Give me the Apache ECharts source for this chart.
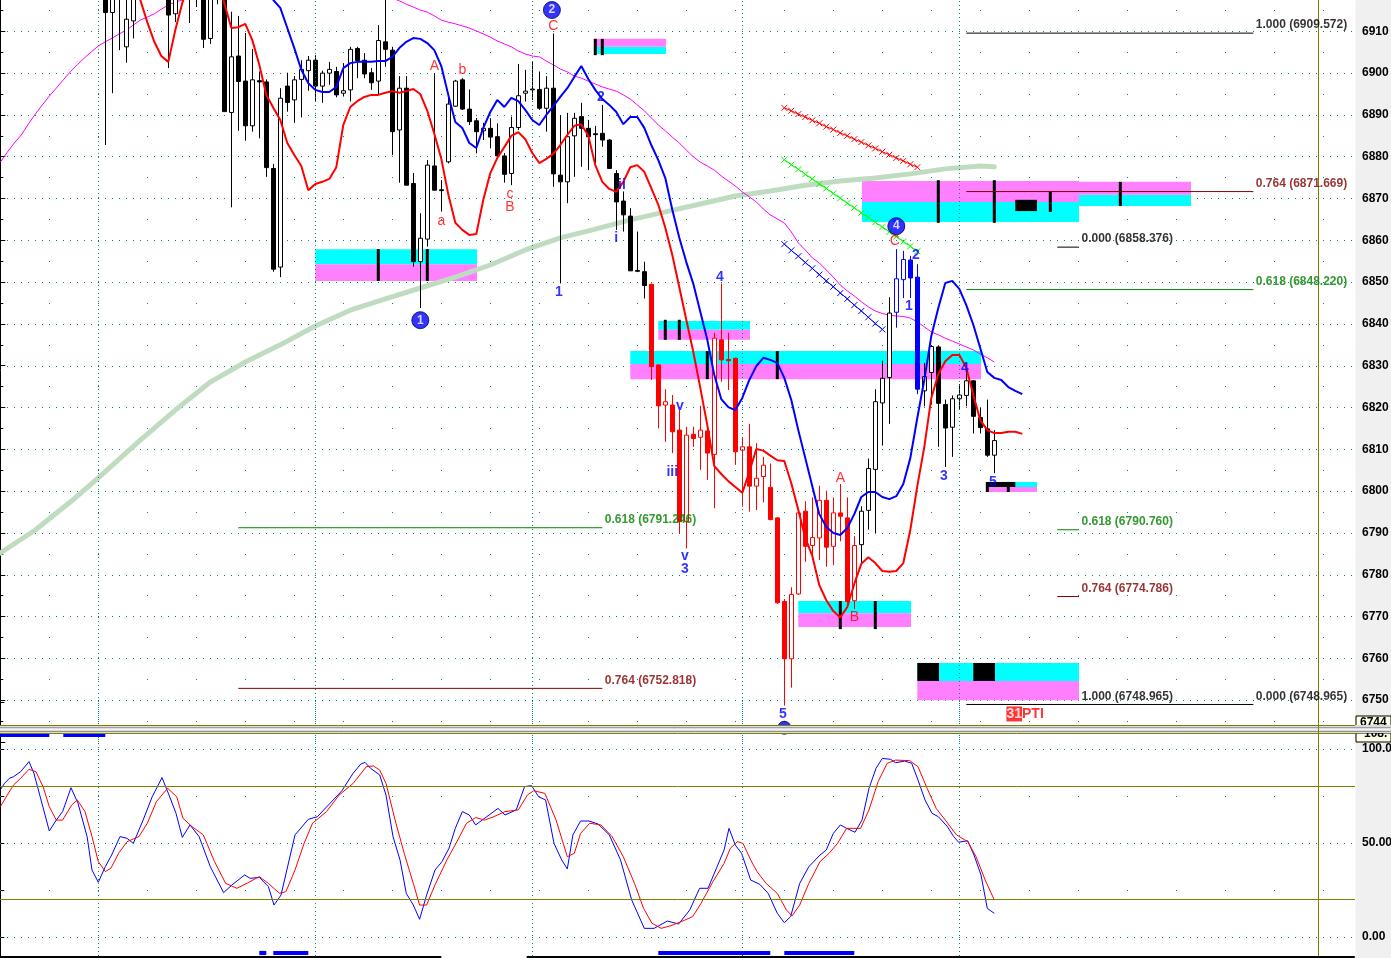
<!DOCTYPE html>
<html>
<head>
<meta charset="utf-8">
<title>Chart</title>
<script src="https://cdn.jsdelivr.net/npm/echarts@6.0.0/dist/echarts.min.js"></script>
<style>
html,body{margin:0;padding:0;background:#ffffff;overflow:hidden;}
#chart{width:1391px;height:958px;}
</style>
</head>
<body>
<div id="chart"></div>
<script>
// ================= DATA (bar index = position on the time axis) =================
const FIRST_CANDLE_BAR = 15;
const candleOpen = [
6925,6914.5,6925,6906.3,6912.5,6921,6926,6930,6927,6922,
6914.2,6921,6925,6920,6922,6908.3,6921,6920,6890.6,6904.1,
6898.1,6887.4,6898.2,6897.9,6877.2,6853.6,6896.9,6893.6,6898.5,6900.6,
6903.1,6896.9,6900.0,6900.4,6895.2,6896.0,6905.9,6903.1,6900.1,6898.1,
6907.5,6905.5,6886.4,6896.4,6873.6,6854.9,6860.3,6877.8,6872.1,6878.8,
6892.1,6898.4,6891.4,6888.6,6886.2,6886.8,6884.8,6880.2,6876.0,6887.0,
6895.2,6896.2,6896.1,6891.6,6896.4,6875.6,6874.0,6885.0,6889.6,6886.8,
6885.5,6885.6,6884.0,6876.0,6869.4,6865.8,6852.8,6852.5,6849.5,6830.2,
6820.6,6820.6,6814.6,6792.7,6813.6,6812.9,6814.4,6808.8,6836.2,6831.5,
6831.8,6809.8,6810.6,6801.2,6803.5,6800.9,6793.6,6773.6,6759.9,6775.4,
6795.2,6787.0,6788.8,6797.8,6786.8,6794.8,6793.6,6773.8,6787.2,6795.4,
6805.2,6821.1,6827.2,6842.8,6850.6,6855.3,6851.2,6824.0,6828.4,6834.5,
6820.7,6815.3,6822.1,6822.9,6826.4,6817.6,6814.9,6808.6];
const candleClose = [
6914.5,6922,6920,6912.9,6919,6926,6930,6927,6923,6913.9,
6921,6924,6921,6924,6908.1,6921,6924,6890.8,6903.9,6898.0,
6887.4,6898.4,6897.9,6877.4,6853.1,6894.0,6893.0,6898.4,6900.9,6903.1,
6896.9,6900.0,6900.9,6894.8,6895.8,6905.7,6903.0,6899.8,6897.7,6907.8,
6905.7,6886.0,6896.4,6873.2,6854.9,6860.5,6878.0,6872.0,6871.9,6892.6,
6898.1,6891.4,6888.4,6886.0,6886.8,6884.7,6880.2,6875.8,6887.0,6894.6,
6895.7,6896.0,6891.6,6896.4,6875.9,6874.0,6884.8,6889.2,6886.8,6884.8,
6885.3,6884.0,6877.2,6869.2,6866.1,6852.7,6852.6,6849.2,6829.8,6820.4,
6821.4,6814.2,6792.7,6813.4,6812.6,6814.6,6809.1,6836.6,6831.4,6831.2,
6809.4,6810.6,6801.2,6803.1,6806.2,6793.2,6773.3,6759.9,6775.3,6794.8,
6786.8,6788.9,6797.8,6786.6,6794.8,6794.0,6773.6,6787.0,6795.2,6805.4,
6821.4,6827.0,6842.6,6850.8,6855.4,6851.0,6824.4,6827.4,6834.6,6821.0,
6815.1,6822.1,6823.0,6826.4,6817.9,6815.2,6808.6,6812.1];
const candleLow = [
6882.8,6895.2,6905.5,6902.5,6908.3,6919,6923,6924,6919,6901.2,
6912.2,6919,6912.0,6915.8,6906.0,6907.0,6916.5,6890.7,6867.9,6886.2,
6883.8,6886.0,6884.4,6875.2,6852.5,6851.2,6890.8,6888.1,6889.4,6895.8,
6893.3,6892.9,6897.2,6894.2,6894.4,6893.2,6898.8,6898.8,6896.0,6894.8,
6901.5,6880.4,6873.8,6873.2,6853.7,6843.8,6858.5,6871.9,6866.9,6878.4,
6891.9,6891.2,6887.6,6880.8,6884.0,6882.0,6880.0,6873.8,6873.2,6886.4,
6893.2,6893.6,6891.2,6886.0,6872.8,6849.7,6868.9,6875.2,6877.6,6876.8,
6878.4,6882.4,6877.2,6862.5,6862.1,6852.7,6852.4,6846.1,6826.6,6815.0,
6811.8,6809.1,6789.9,6786.3,6810.6,6805.1,6802.7,6795.9,6826.2,6824.2,
6806.3,6796.3,6795.1,6795.5,6797.3,6793.0,6773.0,6748.7,6753.0,6775.2,
6783.1,6783.5,6783.5,6781.9,6782.3,6788.0,6772.6,6771.8,6782.3,6790.8,
6790.0,6810.9,6816.1,6839.1,6846.2,6846.2,6823.2,6820.3,6820.7,6810.6,
6805.8,6808.2,6819.5,6820.3,6813.8,6813.8,6808.2,6804.3];
const candleHigh = [
6930,6926,6928,6920,6922,6930,6934,6933,6930,6926,
6924,6927,6928,6927,6925,6924,6928,6924,6914.7,6913.7,
6909.6,6905.8,6900.4,6898.5,6878.3,6896.4,6900.1,6899.3,6903.1,6904.1,
6904.3,6900.6,6902.7,6901.5,6902.4,6906.3,6906.3,6904.8,6901.2,6911.5,
6918.5,6906.3,6899.3,6899.3,6876.1,6866.5,6879.2,6900.0,6874.4,6895.2,
6898.4,6898.8,6896.1,6889.3,6888.1,6889.2,6888.0,6880.9,6889.6,6902.2,
6900.8,6902.7,6900.4,6899.3,6909.5,6890.0,6890.5,6890.5,6892.9,6888.8,
6887.4,6892.4,6884.2,6876.8,6871.7,6867.7,6862.1,6854.9,6849.6,6830.3,
6824.4,6823.0,6819.4,6815.4,6815.4,6820.4,6815.8,6837.9,6849.7,6837.9,
6831.9,6813.0,6816.1,6811.5,6808.2,6806.6,6793.8,6774.2,6777.0,6795.0,
6797.6,6798.5,6801.3,6800.1,6798.5,6801.7,6798.5,6789.2,6796.4,6807.8,
6824.4,6831.2,6846.4,6857.9,6857.5,6856.3,6854.3,6830.7,6834.9,6834.9,
6821.9,6822.9,6825.6,6829.2,6826.5,6819.9,6821.9,6814.6];
const RED_CANDLES = [78, 107];   // candle numbers drawn in red
const BLUE_CANDLES = [113, 116]; // candle numbers drawn in blue

// red average (starts at bar 19)
const RED_LINE_START = 19;
const redLine = [
6922,6917.5,6912.2,6907.5,6904.1,6902.7,6910.3,6916.8,6922,6926,
6927,6926,6922,6916.8,6910.8,6911.0,6911.8,6907.9,6902.0,6894.8,
6891.7,6888.8,6883.3,6880.4,6877.8,6872.0,6873.5,6874.0,6874.7,6877.5,
6887.6,6891.9,6893.3,6894.3,6894.8,6894.8,6895.3,6895.7,6895.3,6895.7,
6896.2,6895.0,6891.0,6885.5,6879.5,6871.0,6864.2,6862.5,6861.3,6861.5,
6869.7,6876.1,6879.7,6882.3,6885.0,6885.9,6884.2,6880.9,6878.5,6879.5,
6880.7,6882.8,6885.2,6887.4,6887.8,6885.0,6878.0,6874.0,6872.3,6871.6,
6874.0,6877.5,6878.0,6876.4,6872.5,6868.5,6863.0,6856.5,6848.8,6841.0,
6833.3,6824.7,6815.8,6806.0,6804.1,6802.4,6801.0,6799.6,6804.6,6810.1,
6809.7,6808.5,6807.4,6807.2,6801.9,6795.5,6788.8,6784.5,6777.5,6773.9,
6771.3,6769.8,6772.3,6777.8,6782.6,6784.2,6782.8,6780.9,6780.7,6780.9,
6782.8,6790.7,6801.2,6810.6,6822.3,6828.0,6831.1,6832.6,6832.6,6829.5,
6823.0,6817.0,6814.6,6813.9,6813.9,6814.2,6814.2,6813.7];
// blue average (starts at bar 38)
const BLUE_LINE_START = 38;
const blueLine = [
6922,6917.5,6915.6,6910.8,6906.0,6900.8,6897.6,6896.0,6895.5,6895.5,
6896.7,6901.2,6902.4,6902.7,6902.7,6902.7,6902.9,6902.9,6903.9,6906.0,
6907.5,6908.4,6908.2,6907.2,6905.5,6901.7,6894.8,6888.3,6886.9,6883.3,
6882.1,6886.9,6890.7,6893.6,6891.9,6894.1,6893.3,6891.2,6888.8,6887.6,
6890.0,6892.1,6894.3,6896.4,6899.1,6901.7,6898.6,6896.0,6893.8,6892.4,
6890.7,6887.8,6889.5,6889.5,6886.9,6882.8,6879.2,6874.9,6867.3,6860.6,
6854.8,6849.6,6842.9,6836.2,6827.8,6822.0,6820.1,6819.4,6822.3,6826.6,
6829.9,6831.9,6831.4,6830.7,6827.1,6821.8,6814.6,6807.9,6801.2,6794.5,
6791.4,6790.0,6789.5,6791.2,6794.5,6798.6,6799.8,6799.8,6798.6,6798.1,
6798.8,6801.7,6807.9,6817.5,6826.6,6837.1,6843.8,6849.8,6850.3,6848.4,
6844.5,6839.8,6834.2,6828.5,6827.1,6826.6,6824.9,6824.0,6823.2];
// thin magenta average (starts at bar 0)
const pinkLine = [
6878.7,6881.1,6883.3,6885.2,6887.8,6890.2,6892.4,6894.5,6896.4,6898.4,
6900.3,6902.0,6903.6,6905.1,6906.5,6907.5,6908.4,6909.4,6910.3,6911.5,
6912.7,6913.4,6914.2,6915.3,6916.3,6917.0,6917.5,
6919,6920.5,6922,6923.5,6925,6926,6927,6927.5,6928,6928,
6928,6927.5,6927,6926.5,6926,6925.5,6925,6924.5,6924,6923.5,
6923,6922.5,6922,6921.5,6921,6920.5,6920,6919.5,6919,
6918.0,6917.3,6916.5,6915.8,6915.1,6914.6,6913.7,6912.7,6912.2,6911.8,
6911.3,6910.8,6910.1,6909.4,6908.6,6907.7,6907.0,6906.3,6905.3,6904.6,
6904.1,6903.9,6902.9,6902.0,6901.0,6900.3,6899.3,6898.8,6898.1,6897.4,
6896.7,6896.2,6895.7,6894.8,6893.8,6892.4,6891.0,6889.3,6887.6,6886.2,
6884.7,6883.3,6881.6,6880.0,6878.7,6877.8,6876.8,6875.4,6874.2,6873.0,
6871.6,6870.4,6869.2,6867.5,6866.1,6865.1,6864.2,6862.0,6859.4,6857.7,
6855.8,6854.6,6852.9,6851.2,6849.3,6847.9,6846.7,6845.3,6844.1,
6843.1,6842.5,6842.1,6841.9,6841.8,6841.4,6840.5,6839.3,6838.1,6837.4,
6836.6,6835.9,6835.2,6834.5,6833.8,6832.8,6831.9,6830.9];
// thick light-green long average: [bar, value]
const greenLine = [[0,6785.2],[5,6790.7],[10,6797.4],[14,6803.2],[20,6812.2],[25,6819.4],[30,6826.1],[35,6830.9],[40,6835.0],[45,6839.5],[50,6843.3],[55,6846.0],[60,6848.6],[65,6851.2],[70,6854.1],[75,6857.7],[80,6860.6],[85,6862.7],[90,6864.9],[95,6866.8],[100,6868.7],[105,6870.6],[110,6871.8],[115,6873.2],[120,6874.2],[125,6874.9],[130,6875.9],[135,6877.1],[140,6877.8],[142,6877.6]];

// x-marked trend lines (start at bar 112)
const XLINE_START = 112;
const redXLine = [6891.7,6891.0,6890.2,6889.5,6888.7,6888.0,6887.2,6886.5,6885.7,6885.0,6884.2,6883.5,6882.7,6882.0,6881.2,6880.5,6879.7,6879.0,6878.2,6877.5];
const greenXLine = [6879.3,6878.1,6877.0,6875.8,6874.7,6873.5,6872.4,6871.2,6870.1,6868.9,6867.8,6866.6,6865.5,6864.3,6863.2,6862.0,6860.9,6859.7,6858.6,6857.4];
const blueXLine = [6859.1,6857.6,6856.2,6854.7,6853.3,6851.8,6850.3,6848.9,6847.4,6846.0,6844.5,6843.1,6841.6,6840.1,6838.7];

// zones: [fromBar, toBar, highPrice, lowPrice]
const cyanZones = [[45.0,68.1,6857.9,6854.3],[84.8,95.1,6906.3,6904.6],[94.0,107.1,6840.7,6838.6],[90.0,140.1,6833.5,6830.4],[114.0,130.1,6773.7,6770.8],[123.1,154.1,6869.2,6864.4],[154.1,170.1,6870.9,6868.2],[131.0,154.1,6758.9,6754.6],[141.0,148.1,6802.2,6801.0]];
const pinkZones = [[45.0,68.1,6854.3,6850.3],[84.8,95.1,6908.2,6906.3],[94.0,107.1,6838.6,6836.2],[90.0,140.1,6830.4,6826.8],[114.0,130.1,6770.8,6767.5],[123.1,154.1,6874.2,6869.2],[154.1,170.1,6874.0,6870.9],[131.0,154.1,6754.6,6750.0],[141.0,148.1,6801.0,6799.8]];
const blackBlocks = [[131.0,134.1,6758.9,6754.6],[139.0,142.1,6758.9,6754.6],[141.0,145.0,6802.2,6801.0],[145.0,148.1,6869.7,6867.0]];
// zone ticks: [bar, highPrice, lowPrice]
const zoneTicks = [[54,6857.9,6850.3],[61,6857.9,6850.3],[85,6908.2,6904.3],[86,6908.2,6904.3],[95,6841.0,6836.2],[97,6841.0,6836.2],[101,6833.5,6826.8],[111,6833.5,6826.8],[120,6773.7,6767.0],[125,6773.7,6767.0],[134,6874.4,6864.2],[142,6874.4,6864.2],[150,6871.8,6866.8],[160,6874.0,6868.2],[141,6802.2,6799.8],[144,6802.2,6799.8]];

// fibonacci levels: [fromBar, toBar, price, text]
const fibBlack = [[138,179,6909.572,'1.000 (6909.572)'],[151,154.1,6858.376,'0.000 (6858.376)'],[138,179,6748.965,'0.000 (6748.965)']];
const fibDarkRed = [[138,179,6871.669,'0.764 (6871.669)'],[151,154.1,6774.786,'0.764 (6774.786)'],[34,86,6752.818,'0.764 (6752.818)']];
const fibGreen = [[138,179,6848.220,'0.618 (6848.220)'],[151,154.1,6790.760,'0.618 (6790.760)'],[34,86,6791.246,'0.618 (6791.246)']];
const fibExtraBlack = [[154.1,6748.965,'1.000 (6748.965)']];

// wave labels: [bar, price, text]
const circleLabels = [[60,6840.9,'1'],[78.8,6915.1,'2'],[128,6863.4,'4']];
const redLabels = [[79,6911.3,'C'],[62,6901.7,'A'],[66,6900.8,'b'],[63,6864.6,'a'],[72.8,6871.1,'c'],[72.8,6868.0,'B'],[120,6803.1,'A'],[122,6769.9,'B'],[127.8,6859.8,'C']];
const blueLabels = [[79.8,6847.6,'1'],[85.8,6894.3,'2'],[88.8,6873.2,'ii'],[88,6860.6,'i'],[102.8,6851.2,'4'],[97.1,6820.4,'v'],[96,6804.6,'iii'],[97.8,6784.5,'v'],[97.8,6781.4,'3'],[111.8,6746.7,'5'],[130.8,6856.5,'2'],[129.8,6844.3,'1'],[134.8,6803.6,'3'],[137.8,6829.5,'4'],[141.8,6802.2,'5']];
const halfCircle = [[112,6743.4]];
const ptiLabel = [[146.4,6746.7,'31PTI']];

// vertical separators (session breaks) and the olive cursor line
const sessionBreaks = [14,45,76,106,137];
const cursorBar = 188.25;

// stochastic: [bar, value]
const stochK = [[0,78.2],[0.6,81.7],[1.3,84.4],[1.9,85.3],[2.9,87.9],[4.1,93.3],[4.8,87.1],[5.7,74.6],[7.0,56.4],[8.0,62.2],[8.9,66.7],[10.1,79.4],[11.1,71.1],[12.4,53.4],[13.1,35.6],[14.0,29.1],[15.0,37.4],[15.9,43.6],[17.1,53.4],[18.1,52.5],[19.0,49.8],[20.4,62.2],[21.7,74.6],[23.1,84.8],[24.1,75.5],[25.1,65.8],[26.0,53.0],[27.1,59.6],[28.4,53.4],[30.0,37.4],[31.9,23.6],[33.1,27.7],[34.9,33.0],[35.7,31.2],[37.0,31.7],[38.3,26.8],[39.1,17.0],[40.1,22.3],[42.1,54.3],[44.0,62.6],[45.3,64.0],[47.1,71.1],[48.8,77.8],[50.4,87.1],[51.5,92.0],[52.1,92.9],[52.9,89.7],[54.2,86.2],[55.1,75.5],[56.1,53.4],[57.1,41.0],[58.0,23.2],[59.0,17.0],[59.9,9.4],[60.9,22.3],[62.1,35.6],[63.1,40.1],[64.1,47.2],[65.0,57.8],[66.0,66.7],[67.0,64.9],[67.9,59.6],[69.5,64.0],[71.1,68.4],[72.1,64.9],[73.7,67.6],[74.9,80.0],[75.9,80.5],[76.9,74.6],[77.9,72.9],[79.1,49.8],[80.2,41.0],[81.0,36.2],[81.8,54.3],[82.9,61.7],[84.1,61.7],[85.4,60.1],[87.0,54.3],[88.6,41.0],[90.2,19.7],[92.0,4.6],[93.4,4.6],[95.3,8.5],[96.9,6.9],[98.5,14.4],[99.9,25.9],[101.1,25.9],[102.4,37.4],[103.4,46.3],[104.1,57.8],[105.0,48.9],[105.9,44.5],[107.2,30.3],[108.5,28.0],[109.7,23.2],[111.0,12.6],[112.0,7.6],[112.9,10.8],[114.2,28.5],[115.5,37.4],[117.1,43.6],[118.0,46.3],[119.0,55.1],[120.0,59.6],[120.9,57.8],[122.1,55.7],[123.1,62.2],[124.1,79.1],[125.1,89.7],[126.0,95.0],[127.2,94.5],[127.9,92.7],[129.2,93.6],[130.2,92.4],[131.1,83.5],[132.1,72.9],[133.1,65.8],[134.0,64.0],[135.3,58.7],[136.2,53.4],[136.9,50.4],[138.2,51.2],[139.1,43.6],[140.1,33.0],[141.0,15.2],[142.0,12.6]];
const stochD = [[0,69.3],[1.0,75.5],[1.9,80.9],[2.9,84.4],[4.1,89.2],[5.1,87.9],[6.1,80.0],[7.0,69.3],[8.0,62.2],[8.9,62.2],[10.2,70.2],[11.0,72.9],[12.1,66.7],[13.1,53.4],[14.0,40.1],[15.0,34.8],[15.8,36.6],[16.9,44.5],[18.1,50.7],[19.8,53.4],[21.0,60.5],[22.3,72.0],[23.9,79.1],[25.2,74.6],[26.1,63.1],[27.4,58.7],[29.0,54.3],[30.6,40.1],[32.2,28.5],[33.8,25.9],[35.4,28.9],[37.0,32.1],[38.3,28.5],[39.9,23.2],[40.8,24.1],[42.1,35.6],[43.4,49.8],[44.6,60.5],[46.6,66.7],[48.4,75.5],[50.4,81.7],[52.3,90.6],[53.3,91.0],[54.2,88.8],[55.1,81.7],[56.4,62.2],[57.7,44.5],[59.0,28.5],[59.9,17.0],[60.9,17.0],[62.1,27.7],[63.8,41.0],[65.1,49.8],[66.6,60.5],[67.9,63.5],[69.2,62.2],[70.5,64.0],[72.1,66.7],[74.0,67.6],[75.3,75.5],[76.2,77.8],[77.8,76.4],[79.4,62.2],[81.0,42.7],[82.0,44.5],[82.9,55.1],[84.2,60.5],[85.8,59.6],[87.4,53.4],[89.0,42.7],[90.6,28.5],[91.9,15.2],[93.1,7.3],[94.4,4.6],[95.7,5.9],[97.3,8.2],[98.9,10.8],[100.1,17.9],[101.8,29.4],[103.4,39.2],[104.3,47.2],[105.3,50.7],[106.1,49.8],[107.2,41.0],[108.1,34.8],[109.4,28.5],[111.0,23.2],[112.3,14.4],[113.1,11.2],[114.2,17.0],[115.5,28.5],[117.1,40.1],[118.4,44.5],[119.6,49.8],[120.9,57.8],[122.9,57.8],[124.1,67.6],[125.4,82.6],[126.7,92.4],[127.9,94.1],[129.9,93.8],[131.1,90.6],[132.4,79.1],[133.7,68.4],[135.0,62.2],[136.6,54.3],[138.2,50.7],[139.4,42.7],[140.7,30.3],[142.0,19.7]];
const stochLevels = [100, 50, 0];
const stochMinorLevels = [75, 25];
const stochBands = [80, 20];
const stochTicks = ['0.00', '50.00', '100.0'];
// signal strips: [fromBar, toBar, highValue, lowValue]
const stochTopSignals = [[0,7,108,106.4],[9,15,108,106.4]];
const stochBottomSignals = [[37,38,-7.4,-9.6],[39,44,-7.4,-9.6],[94,110,-7.4,-9.6],[112,122,-7.4,-9.6]];
const stochBottomLine = [[0,63,-10.1,-11.2],[75.2,193.5,-10.1,-11.2]];

// ================= CHART =================
const FONT = "'Liberation Sans', Arial, Helvetica, sans-serif";
const C = {cyan:'#00ffff', magenta:'#ff80ff', red:'#ff0000', blue:'#0000ff', pink:'#ff00ff', ma:'#c0dcc0', teal:'#008080', olive:'#808000', darkred:'#800000', green:'#008000', lime:'#00ff00'};
const X_MIN = -0.3 / 7, X_MAX = (1355 - 0.3) / 7;

const chart = echarts.init(document.getElementById('chart'), null, {renderer:'canvas'});

const toPairs = (start, arr) => arr.map((v, j) => [start + j, v]);

const candleGroups = {black:[], red:[], blue:[]};
for (let k = 0; k < candleOpen.length; k++) {
  const row = [k + FIRST_CANDLE_BAR, candleOpen[k], candleClose[k], candleLow[k], candleHigh[k]];
  if (k >= RED_CANDLES[0] && k <= RED_CANDLES[1]) candleGroups.red.push(row);
  else if (k >= BLUE_CANDLES[0] && k <= BLUE_CANDLES[1]) candleGroups.blue.push(row);
  else candleGroups.black.push(row);
}
function candleSeries(data, col) {
  return {type:'candlestick', xAxisIndex:0, yAxisIndex:0, data, barWidth:5, z:4, clip:true, silent:true,
    itemStyle:{color:'#ffffff', color0:col, borderColor:col, borderColor0:col, borderWidth:1}};
}
function rectSeries(data, color, z, gi) {
  return {type:'custom', xAxisIndex:gi, yAxisIndex:gi, z, silent:true, data,
    renderItem: (params, api) => {
      const a = api.coord([api.value(0), api.value(2)]);
      const b = api.coord([api.value(1), api.value(3)]);
      return {type:'rect', shape:{x:a[0], y:a[1], width:b[0]-a[0], height:b[1]-a[1]}, style:{fill:color}};
    }};
}
function tickSeries(data) {
  return {type:'custom', xAxisIndex:0, yAxisIndex:0, z:5, silent:true, data,
    renderItem: (params, api) => {
      const a = api.coord([api.value(0), api.value(1)]);
      const b = api.coord([api.value(0), api.value(2)]);
      return {type:'rect', shape:{x:a[0]-1.5, y:a[1], width:3, height:b[1]-a[1]}, style:{fill:'#000000'}};
    }};
}
function lineSeries(data, color, width, z, extra) {
  return Object.assign({type:'line', xAxisIndex:0, yAxisIndex:0, data, showSymbol:false, symbol:'none', z, silent:true,
    lineStyle:{color, width}}, extra || {});
}
const X_SYMBOL = 'path://M0 0L10 10M10 0L0 10';
function xLineSeries(arr, color) {
  return {type:'line', xAxisIndex:0, yAxisIndex:0, data:toPairs(XLINE_START, arr), z:6, silent:true,
    symbol:X_SYMBOL, symbolSize:6, showSymbol:true,
    itemStyle:{color:'rgba(0,0,0,0)', borderColor:color, borderWidth:1},
    lineStyle:{color, width:1}};
}
function textSeries(items, color, size, weight, extra) {
  return {type:'scatter', xAxisIndex:0, yAxisIndex:0, z:8, silent:true, symbolSize:1,
    itemStyle:{color:'rgba(0,0,0,0)'},
    data: items.map(t => ({value:[t[0], t[1]], name:t[2]})),
    label: Object.assign({show:true, position:'inside', formatter:'{b}', color, fontSize:size, fontWeight:weight, fontFamily:FONT}, extra || {})};
}
function fibSeries(list, color) {
  const out = [];
  list.forEach(f => {
    out.push({type:'line', xAxisIndex:0, yAxisIndex:0, z:7, silent:true, symbol:'none', showSymbol:false,
      data:[[f[0], f[2]], [f[1], f[2]]], lineStyle:{color, width:1}});
  });
  out.push(textSeries(list.map(f => [f[1], f[2], f[3]]), color, 12, 'bold', {position:'right', distance:2, offset:[0,-8]}));
  return out;
}

const mainVLines = sessionBreaks.map(x => ({xAxis:x, lineStyle:{color:C.teal, type:[1,3], width:1}}))
  .concat([{xAxis:cursorBar, lineStyle:{color:C.olive, type:'solid', width:1}}]);
const stochLines = mainVLines.concat(
  stochLevels.map(v => ({yAxis:v, lineStyle:{color:C.teal, type:[1,6], width:1}})),
  stochMinorLevels.map(v => ({yAxis:v, lineStyle:{color:C.teal, type:[1,48], width:1}})),
  stochBands.map(v => ({yAxis:v, lineStyle:{color:C.olive, type:'solid', width:1}}))
);

const series = [
  rectSeries(cyanZones, C.cyan, 1, 0),
  rectSeries(pinkZones, C.magenta, 1, 0),
  lineSeries(greenLine, C.ma, 5, 2, {lineStyle:{color:C.ma, width:5, cap:'round'},
    markLine:{silent:true, symbol:['none','none'], label:{show:false}, animation:false, data:mainVLines}}),
  lineSeries(toPairs(0, pinkLine), C.pink, 1, 3),
  candleSeries(candleGroups.black, '#000000'),
  candleSeries(candleGroups.red, C.red),
  candleSeries(candleGroups.blue, C.blue),
  rectSeries(blackBlocks, '#000000', 5, 0),
  tickSeries(zoneTicks),
  lineSeries(toPairs(RED_LINE_START, redLine), C.red, 2, 6),
  lineSeries(toPairs(BLUE_LINE_START, blueLine), C.blue, 2, 6),
  xLineSeries(redXLine, C.red),
  xLineSeries(greenXLine, C.lime),
  xLineSeries(blueXLine, C.blue),
  ...fibSeries(fibBlack, '#000000'),
  ...fibSeries(fibDarkRed, C.darkred),
  ...fibSeries(fibGreen, C.green),
  textSeries(fibExtraBlack, '#000000', 12, 'bold', {position:'right', distance:2, offset:[0,-8]}),
  textSeries(redLabels, C.red, 14, 'normal'),
  textSeries(blueLabels, C.blue, 14, 'bold'),
  {type:'scatter', xAxisIndex:0, yAxisIndex:0, z:9, silent:true, symbol:'circle', symbolSize:17,
    itemStyle:{color:C.blue, borderColor:'#000050', borderWidth:1},
    data: circleLabels.map(t => ({value:[t[0], t[1]], name:t[2]})),
    label:{show:true, position:'inside', formatter:'{b}', color:'#ffffff', fontWeight:'bold', fontSize:12, fontFamily:FONT}},
  {type:'scatter', xAxisIndex:0, yAxisIndex:0, z:9, silent:true, symbol:'circle', symbolSize:13, clip:false,
    itemStyle:{color:C.blue, borderColor:'#000050', borderWidth:1}, data: halfCircle},
  textSeries(ptiLabel, C.red, 14, 'bold', {formatter:'{a|31}{b|PTI}',
    rich:{a:{backgroundColor:C.red, color:'#ffffff', fontSize:14, fontWeight:'bold', fontFamily:FONT, padding:[1,0,0,0]},
          b:{color:C.red, fontSize:14, fontWeight:'bold', fontFamily:FONT}}}),
  // stochastic panel
  {type:'line', xAxisIndex:1, yAxisIndex:1, data:stochK, showSymbol:false, symbol:'none', z:4, silent:true,
    lineStyle:{color:C.blue, width:1},
    markLine:{silent:true, symbol:['none','none'], label:{show:false}, animation:false, data:stochLines}},
  {type:'line', xAxisIndex:1, yAxisIndex:1, data:stochD, showSymbol:false, symbol:'none', z:4, silent:true,
    lineStyle:{color:C.red, width:1}},
  rectSeries(stochTopSignals, C.blue, 5, 1),
  rectSeries(stochBottomSignals, C.blue, 5, 1),
  rectSeries(stochBottomLine, '#000000', 5, 1)
];

const axisLabelStyle = {color:'#000000', fontSize:12, fontWeight:'bold', fontFamily:FONT, margin:7};
const option = {
  backgroundColor:'#ffffff',
  animation:false,
  grid:[
    {left:0, width:1355, top:-10.45, height:752.4, containLabel:false, outerBoundsMode:'none'},
    {left:0, width:1355, top:702, height:282, containLabel:false, outerBoundsMode:'none'}
  ],
  xAxis:[
    {type:'value', gridIndex:0, min:X_MIN, max:X_MAX, show:false},
    {type:'value', gridIndex:1, min:X_MIN, max:X_MAX, show:false}
  ],
  yAxis:[
    {type:'value', gridIndex:0, position:'right', min:6740, max:6920, interval:10,
      axisLine:{show:true, lineStyle:{color:'#000000', width:1}},
      axisTick:{show:true, length:5, lineStyle:{color:'#000000'}},
      minorTick:{show:true, splitNumber:2, length:3, lineStyle:{color:'#000000'}},
      axisLabel:Object.assign({showMinLabel:false, showMaxLabel:false, formatter: v => String(v)}, axisLabelStyle),
      splitLine:{show:true, showMinLine:false, showMaxLine:false, lineStyle:{color:C.teal, type:[1,6], width:1}},
      minorSplitLine:{show:true, lineStyle:{color:C.teal, type:[1,48], width:1}}},
    {type:'value', gridIndex:1, position:'right', min:-25, max:125, interval:25,
      axisLine:{show:true, lineStyle:{color:'#000000', width:1}},
      axisTick:{show:true, length:4, lineStyle:{color:'#000000'}},
      axisLabel:Object.assign({formatter: v => (v === 0 ? stochTicks[0] : v === 50 ? stochTicks[1] : v === 100 ? stochTicks[2] : '')}, axisLabelStyle),
      splitLine:{show:false}}
  ],
  graphic:[
    {type:'rect', z:-1, silent:true, shape:{x:1355.5, y:0, width:36, height:958}, style:{fill:'#f0f0f0'}},
    {type:'rect', z:99, silent:true, shape:{x:1356, y:716, width:35, height:10}, style:{fill:'#ffffe8', stroke:'#000000', lineWidth:1}},
    {type:'text', z:99, silent:true, x:1360, y:717, style:{text:'6744', font:'bold 12px ' + FONT, fill:'#000000', textVerticalAlign:'top'}},
    {type:'rect', z:99, silent:true, shape:{x:1356, y:733, width:35, height:9}, style:{fill:'#ffffe8', stroke:'#000000', lineWidth:1}},
    {type:'text', z:99, silent:true, x:1364, y:728, style:{text:'108.', font:'bold 12px ' + FONT, fill:'#000000', textVerticalAlign:'top'}},
    {type:'rect', z:100, silent:true, shape:{x:0, y:725, width:1391, height:8}, style:{fill:'#dcdcdc'}},
    {type:'line', z:101, silent:true, shape:{x1:0, y1:727.5, x2:1391, y2:727.5}, style:{stroke:'#a0a0a0', lineWidth:1}},
    {type:'line', z:101, silent:true, shape:{x1:0, y1:729.5, x2:1391, y2:729.5}, style:{stroke:'#f4f4f4', lineWidth:1}},
    {type:'line', z:101, silent:true, shape:{x1:0, y1:731.5, x2:1391, y2:731.5}, style:{stroke:'#909090', lineWidth:1}},
    {type:'line', z:101, silent:true, shape:{x1:0, y1:725.5, x2:1355, y2:725.5}, style:{stroke:C.olive, lineWidth:1}},
    {type:'line', z:101, silent:true, shape:{x1:0, y1:733.5, x2:1355, y2:733.5}, style:{stroke:C.olive, lineWidth:1}},
    {type:'line', z:101, silent:true, shape:{x1:1318.5, y1:725, x2:1318.5, y2:734}, style:{stroke:C.olive, lineWidth:1}}
  ],
  series
};
chart.setOption(option);
</script>
</body>
</html>
